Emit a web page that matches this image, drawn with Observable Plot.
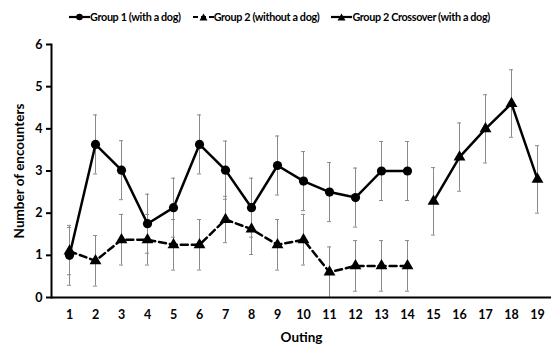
<!DOCTYPE html>
<html><head><meta charset="utf-8">
<script src="https://cdn.jsdelivr.net/npm/d3@7"></script>
<script src="https://cdn.jsdelivr.net/npm/@observablehq/plot@0.6"></script>
<style>
body{margin:0;background:#fff;font-family:Lato,"Open Sans",sans-serif;width:551px;height:347px;overflow:hidden;}
#legend{height:36px;display:flex;align-items:center;justify-content:center;font-weight:bold;font-size:10.8px;letter-spacing:-0.35px;color:#000;padding:0 0 3px 8px;box-sizing:border-box;}
#legend .item{display:flex;align-items:center;margin:0 6px;}
#legend svg{display:block;}
#chart svg{display:block;}
</style></head><body>
<div id="legend"></div>
<div id="chart"></div>
<script>
// ---- data ----
const outings = [1,2,3,4,5,6,7,8,9,10,11,12,13,14,15,16,17,18,19];
const yTicks = [0,1,2,3,4,5,6];
const group1Outing = [1,2,3,4,5,6,7,8,9,10,11,12,13,14];
const group1Mean = [1.0,3.63,3.02,1.75,2.13,3.63,3.02,2.13,3.13,2.76,2.5,2.37,3.0,3.0];
const group1Err  = [0.71,0.7,0.7,0.7,0.7,0.7,0.69,0.7,0.7,0.7,0.7,0.7,0.7,0.7];
const group2Outing = [1,2,3,4,5,6,7,8,9,10,11,12,13,14];
const group2Mean = [1.1,0.87,1.37,1.37,1.25,1.25,1.85,1.62,1.25,1.37,0.6,0.75,0.75,0.75];
const group2Err  = [0.56,0.6,0.6,0.6,0.6,0.6,0.55,0.6,0.6,0.6,0.6,0.6,0.6,0.6];
const crossOuting = [15,16,17,18,19];
const crossMean = [2.28,3.33,4.0,4.6,2.8];
const crossErr  = [0.8,0.81,0.81,0.8,0.8];
const seriesNames = ["Group 1 (with a dog)","Group 2 (without a dog)","Group 2 Crossover (with a dog)"];

const mk = (xs, ms, es) => xs.map((x,i)=>({x, m: ms[i], lo: ms[i]-es[i], hi: ms[i]+es[i]}));
const g1 = mk(group1Outing, group1Mean, group1Err);
const g2 = mk(group2Outing, group2Mean, group2Err);
const g3 = mk(crossOuting, crossMean, crossErr);

const errColor = "#8a8a8a";
function errBars(data){
  return [
    Plot.ruleX(data, {x:"x", y1:"lo", y2:"hi", stroke: errColor, strokeWidth: 1}),
    Plot.tickY(data, {x:"x", y:"lo", stroke: errColor, strokeWidth: 1, insetLeft: 11, insetRight: 11}),
    Plot.tickY(data, {x:"x", y:"hi", stroke: errColor, strokeWidth: 1, insetLeft: 11, insetRight: 11})
  ];
}

const chart = Plot.plot({
  width: 551,
  height: 311,
  marginTop: 8,
  marginBottom: 50,
  marginLeft: 51,
  marginRight: 0,
  style: {fontFamily: "Lato, 'Open Sans', sans-serif", fontWeight: "bold", color: "#000", background: "#fff"},
  x: {type: "band", domain: outings, range: [51, 555], padding: 0},
  y: {domain: [0, 6]},
  marks: [
    ...errBars(g1),
    ...errBars(g2),
    ...errBars(g3),
    Plot.line(g2, {x:"x", y:"m", stroke:"#000", strokeWidth: 2.5, strokeDasharray: "7,4"}),
    Plot.line(g1, {x:"x", y:"m", stroke:"#000", strokeWidth: 2.5}),
    Plot.line(g3, {x:"x", y:"m", stroke:"#000", strokeWidth: 2.5}),
    Plot.dot(g1, {x:"x", y:"m", r: 4.6, fill:"#000", stroke: "none"}),
    Plot.dot(g2, {x:"x", y:"m", r: 4.4, symbol:"triangle", fill:"#000", stroke: "none"}),
    Plot.dot(g3, {x:"x", y:"m", r: 4.4, symbol:"triangle", fill:"#000", stroke: "none"}),
    Plot.ruleY([0], {stroke:"#000", strokeWidth: 2}),
    Plot.frame({anchor: "left", stroke: "#000", strokeWidth: 2}),
    Plot.axisY({ticks: yTicks, tickFormat: d3.format("d"), tickSize: 5, tickPadding: 4, strokeWidth: 2, fontSize: 12.5, fontWeight: "bold",
      label: "Number of encounters", labelAnchor: "center", labelOffset: 37, labelArrow: "none"}),
    Plot.axisX({tickSize: 0, tickPadding: 13, fontSize: 12.5, fontWeight: "bold",
      label: "Outing", labelAnchor: "center", labelOffset: 44, labelArrow: "none"})
  ]
});
document.getElementById("chart").appendChild(chart);
chart.querySelectorAll("[aria-label='y-axis label'] text, [aria-label='x-axis label'] text").forEach(t=>t.setAttribute("font-size","13.5"));

// ---- legend ----
const legendSymbols = [
  `<svg width="21" height="10"><line x1="0" y1="5" x2="21" y2="5" stroke="#000" stroke-width="2.2"/><circle cx="10.5" cy="5" r="3.3" fill="#000"/></svg>`,
  `<svg width="21" height="10"><line x1="0" y1="5" x2="21" y2="5" stroke="#000" stroke-width="2.2" stroke-dasharray="5,3"/><path d="M10.5,1.5 L14.5,8.5 L6.5,8.5 Z" fill="#000"/></svg>`,
  `<svg width="21" height="10"><line x1="0" y1="5" x2="21" y2="5" stroke="#000" stroke-width="2.2"/><path d="M10.5,1.5 L14.5,8.5 L6.5,8.5 Z" fill="#000"/></svg>`
];
document.getElementById("legend").innerHTML = seriesNames.map((n,i)=>
  `<div class="item">${legendSymbols[i]}<span>${n}</span></div>`).join("");
</script>
</body></html>
